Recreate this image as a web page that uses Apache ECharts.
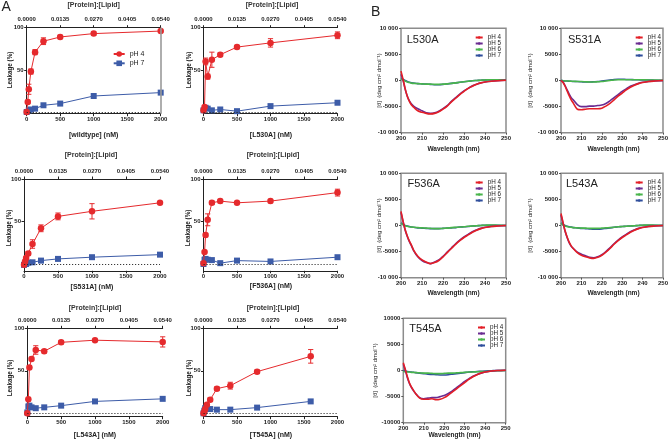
<!DOCTYPE html>
<html><head><meta charset="utf-8">
<script src="https://cdn.jsdelivr.net/npm/echarts@6/dist/echarts.min.js"></script>
<style>html,body{margin:0;padding:0;background:#fff}#c{width:671px;height:440px}</style>
</head><body><div id="c"></div>
<script>
// ================= DATA =================
// Panel A: leakage (%) vs protein concentration (nM)
const leakXTicks = [0, 500, 1000, 1500, 2000];
const leakYTicks = [50, 100];
const ratioTicks = [0, 0.0135, 0.027, 0.0405, 0.054];

const wtConc4  = [0, 15.6, 31.25, 62.5, 125, 250, 500, 1000, 2000];
const wtLeak4  = [0, 12, 27, 48, 71, 84, 89, 93, 96];
const wtErr4   = [0, 2, 6, 3, 3, 4, 2, 2, 1];
const wtConc7  = [0, 31.25, 62.5, 125, 250, 500, 1000, 2000];
const wtLeak7  = [0, 2, 3, 4, 8, 10, 19, 23];

const l530Conc4 = [0, 15.6, 31.25, 62.5, 125, 250, 500, 1000, 2000];
const l530Leak4 = [2, 6, 60, 42, 62, 68, 77, 82, 91];
const l530Err4  = [0, 0, 4, 3, 9, 2, 2, 5, 4];
const l530Conc7 = [0, 31.25, 62.5, 125, 250, 500, 1000, 2000];
const l530Leak7 = [2, 5, 4, 2, 3, 1, 7, 11];

const s531Conc4 = [0, 15.6, 31.25, 62.5, 125, 250, 500, 1000, 2000];
const s531Leak4 = [-1, 3, 7, 12.5, 23.5, 42, 56, 62, 72];
const s531Err4  = [0, 1, 1, 2, 5, 4, 4, 9, 1];
const s531Conc7 = [0, 31.25, 62.5, 125, 250, 500, 1000, 2000];
const s531Leak7 = [-1, 0, 1.5, 2, 4, 6, 8, 11];

const f536Conc4 = [0, 15.6, 31.25, 62.5, 125, 250, 500, 1000, 2000];
const f536Leak4 = [1, 14, 34, 52, 72, 74, 72, 74, 84];
const f536Err4  = [0, 1, 2, 7, 2, 2, 1, 2, 4];
const f536Conc7 = [0, 15.6, 31.25, 62.5, 125, 250, 500, 1000, 2000];
const f536Leak7 = [0, 5, 6, 5, 4.6, 1, 4, 3, 8];

const l543Conc4 = [0, 15.6, 31.25, 62.5, 125, 250, 500, 1000, 2000];
const l543Leak4 = [0, 16.5, 54, 64, 74.5, 73, 83.5, 86, 84];
const l543Err4  = [0, 1, 2, 2, 5, 2, 2, 1, 6];
const l543Conc7 = [0, 15.6, 31.25, 62.5, 125, 250, 500, 1000, 2000];
const l543Leak7 = [1, 8, 9, 7, 6, 7, 9, 14, 17];

const t545Conc4 = [0, 12.5, 25, 50, 100, 200, 400, 800, 1600];
const t545Leak4 = [0, 2, 5, 10, 16, 29, 32.5, 49, 67];
const t545Err4  = [0, 1, 1, 1, 2, 2, 4, 2, 8];
const t545Conc7 = [0, 12.5, 25, 50, 100, 200, 400, 800, 1600];
const t545Leak7 = [0, 3, 6, 7.5, 5, 4.3, 4.3, 6.7, 14];

// Panel B: CD spectra, mean residue ellipticity vs wavelength (nm)
const cdWavelength = [200,201,202,203,204,205,206,208,210,212,214,216,218,220,222,224,226,228,230,232,234,236,238,240,243,246,250];
const cdXTicks = [200, 210, 220, 230, 240, 250];
const cdYTicks = [-10000, -5000, 0, 5000, 10000];
const cdYTickLabels = ['-10 000', '-5000', '0', '5000', '10 000'];
const cdYTickLabelsT545A = ['-10000', '-5000', '0', '5000', '10000'];

const l530_pH4 = [1800,200,-1600,-3000,-4000,-4700,-5100,-5800,-6100,-6300,-6400,-6300,-6000,-5500,-4900,-4100,-3400,-2700,-2100,-1500,-1100,-700,-450,-300,-150,-50,50];
const l530_pH5 = [1200,0,-1700,-3000,-3900,-4500,-4900,-5400,-5800,-6200,-6300,-6200,-5900,-5400,-4800,-4000,-3300,-2600,-2000,-1500,-1000,-700,-450,-300,-150,-50,50];
const l530_pH6 = [300,100,-100,-300,-400,-500,-550,-600,-650,-700,-700,-750,-750,-700,-650,-550,-450,-350,-250,-150,-50,0,50,100,150,150,100];
const l530_pH7 = [400,200,0,-200,-350,-450,-500,-600,-650,-700,-750,-800,-800,-750,-650,-550,-450,-350,-250,-150,-50,0,50,100,150,150,100];

const s531_pH4 = [0,-400,-1100,-2000,-2900,-3700,-4300,-5500,-5600,-5500,-5400,-5400,-5400,-5300,-4900,-4400,-3700,-3000,-2400,-1800,-1300,-900,-600,-400,-200,-100,0];
const s531_pH5 = [0,-300,-1000,-1800,-2600,-3300,-3700,-4600,-5000,-5000,-4900,-4900,-4800,-4700,-4400,-3900,-3300,-2700,-2100,-1600,-1100,-800,-550,-350,-200,-100,0];
const s531_pH6 = [0,-50,-100,-100,-100,-150,-150,-200,-200,-250,-300,-300,-250,-200,-100,0,100,150,150,150,150,150,150,150,100,100,50];
const s531_pH7 = [0,-50,-100,-100,-150,-150,-200,-200,-250,-300,-300,-250,-200,-100,0,100,200,250,250,200,200,150,150,100,100,50,0];

const f536_pH4 = [2700,800,-800,-2000,-3000,-3800,-4700,-5900,-6600,-7000,-7300,-7100,-6700,-6000,-5200,-4400,-3600,-2900,-2300,-1800,-1300,-900,-600,-400,-200,-100,0];
const f536_pH5 = [2500,700,-900,-2100,-3100,-3900,-4800,-6000,-6700,-7100,-7300,-7000,-6600,-5900,-5100,-4300,-3500,-2800,-2200,-1700,-1200,-850,-550,-350,-200,-100,0];
const f536_pH6 = [400,150,-50,-150,-250,-300,-350,-400,-450,-500,-550,-600,-600,-550,-500,-400,-350,-300,-250,-150,-100,-50,0,50,100,50,0];
const f536_pH7 = [500,200,0,-100,-200,-300,-350,-450,-500,-550,-600,-600,-600,-550,-500,-450,-400,-300,-250,-200,-100,-50,0,50,50,50,0];

const l543_pH4 = [2300,600,-1000,-2200,-3200,-3900,-4400,-5200,-5700,-6000,-6200,-6300,-6100,-5700,-5100,-4400,-3600,-2900,-2300,-1800,-1300,-900,-600,-400,-200,-100,0];
const l543_pH5 = [2000,400,-1100,-2300,-3300,-4000,-4400,-5100,-5500,-5800,-6100,-6200,-6000,-5600,-5000,-4300,-3500,-2800,-2200,-1700,-1200,-850,-550,-350,-200,-100,0];
const l543_pH6 = [400,100,-100,-200,-300,-350,-400,-450,-500,-500,-550,-550,-550,-500,-450,-400,-350,-250,-200,-150,-100,-50,0,50,100,50,0];
const l543_pH7 = [500,200,0,-150,-250,-300,-400,-450,-550,-600,-650,-700,-700,-650,-550,-450,-350,-250,-200,-150,-100,-50,0,50,50,50,0];

const t545_pH4 = [1500,200,-1200,-2400,-3200,-3800,-4400,-5300,-5500,-5500,-5400,-5600,-5500,-5200,-4700,-4100,-3500,-2900,-2300,-1700,-1200,-800,-500,-300,-100,0,50];
const t545_pH5 = [1200,0,-1400,-2500,-3300,-3900,-4400,-5200,-5400,-5300,-5200,-5200,-5000,-4800,-4400,-3900,-3300,-2700,-2100,-1600,-1100,-750,-500,-300,-100,0,50];
const t545_pH6 = [-200,-250,-300,-300,-350,-350,-400,-450,-500,-500,-550,-600,-600,-550,-500,-500,-450,-400,-350,-300,-300,-250,-200,-200,-100,-50,0];
const t545_pH7 = [0,-100,-200,-250,-300,-350,-400,-500,-600,-700,-750,-800,-850,-850,-800,-700,-600,-500,-400,-300,-250,-200,-150,-100,-50,0,0];

// ================= LAYOUT / STYLE =================
const FONT = '"Liberation Sans", Arial, Helvetica, sans-serif';
const INK = '#222';
const RED = '#e52a2d', BLUE = '#3d5ca8';
const CD_COL = {4: '#e31e26', 5: '#6a2c91', 6: '#48b54b', 7: '#2f4e9c'};

const leakPanels = [
  {conc4: wtConc4, leak4: wtLeak4, err4: wtErr4, conc7: wtConc7, leak7: wtLeak7, grid: {left: 26.7, top: 27.7, width: 134, height: 86}, ymin: -2, rightLine: true},
  {conc4: l530Conc4, leak4: l530Leak4, err4: l530Err4, conc7: l530Conc7, leak7: l530Leak7, grid: {left: 203.5, top: 27.7, width: 134, height: 86}, ymin: -2},
  {conc4: s531Conc4, leak4: s531Leak4, err4: s531Err4, conc7: s531Conc7, leak7: s531Leak7, grid: {left: 24, top: 179, width: 136, height: 91.8}, ymin: -8},
  {conc4: f536Conc4, leak4: f536Leak4, err4: f536Err4, conc7: f536Conc7, leak7: f536Leak7, grid: {left: 203.5, top: 179, width: 134, height: 91.8}, ymin: -8},
  {conc4: l543Conc4, leak4: l543Leak4, err4: l543Err4, conc7: l543Conc7, leak7: l543Leak7, grid: {left: 27.3, top: 328.3, width: 135.4, height: 88.4}, ymin: -4},
  {conc4: t545Conc4, leak4: t545Leak4, err4: t545Err4, conc7: t545Conc7, leak7: t545Leak7, grid: {left: 203.5, top: 328.3, width: 134, height: 88.4}, ymin: -4}
];

const cdPanels = [
  {s: [l530_pH4, l530_pH5, l530_pH6, l530_pH7], labels: cdYTickLabels, grid: {left: 401, top: 28.3, width: 105, height: 104.4}},
  {s: [s531_pH4, s531_pH5, s531_pH6, s531_pH7], labels: cdYTickLabels, grid: {left: 561, top: 28.3, width: 105, height: 104.4}},
  {s: [f536_pH4, f536_pH5, f536_pH6, f536_pH7], labels: cdYTickLabels, grid: {left: 401, top: 173.3, width: 105, height: 104.4}},
  {s: [l543_pH4, l543_pH5, l543_pH6, l543_pH7], labels: cdYTickLabels, grid: {left: 561, top: 173.3, width: 105, height: 104.4}},
  {s: [t545_pH4, t545_pH5, t545_pH6, t545_pH7], labels: cdYTickLabelsT545A, grid: {left: 403.3, top: 318.3, width: 102.4, height: 104.4}}
];

const zip = (a, b) => a.map((v, i) => [v, b[i]]);

const grids = [], xAxes = [], yAxes = [], series = [], legends = [];
const tickFont = {fontSize: 6, fontWeight: 'bold', color: INK, fontFamily: FONT};

leakPanels.forEach((p, i) => {
  grids.push(Object.assign({containLabel: false}, p.grid));
  const gi = grids.length - 1;
  const xb = xAxes.length;
  xAxes.push({type: 'value', gridIndex: gi, position: 'bottom', min: 0, max: 2000,
    axisLine: {show: true, onZero: false, lineStyle: {color: INK, width: 1}},
    axisTick: {show: true, length: 2.5, customValues: leakXTicks, lineStyle: {color: INK}},
    axisLabel: Object.assign({customValues: leakXTicks, margin: 3, formatter: v => String(v)}, tickFont),
    splitLine: {show: false}});
  xAxes.push({type: 'value', gridIndex: gi, position: 'top', min: 0, max: 0.054,
    axisLine: {show: true, onZero: false, lineStyle: {color: INK, width: 1}},
    axisTick: {show: true, length: 2.5, customValues: ratioTicks, lineStyle: {color: INK}},
    axisLabel: Object.assign({customValues: ratioTicks, margin: 5, formatter: v => v.toFixed(4)}, tickFont),
    splitLine: {show: false}});
  const yi = yAxes.length;
  yAxes.push({type: 'value', gridIndex: gi, min: p.ymin, max: 100,
    axisLine: {show: true, onZero: false, lineStyle: {color: INK, width: 1}},
    axisTick: {show: true, length: 2.5, customValues: leakYTicks, lineStyle: {color: INK}},
    axisLabel: Object.assign({customValues: leakYTicks, margin: 3, formatter: v => String(v)}, tickFont),
    splitLine: {show: false}});
  // error bars (pH 4)
  const errData = p.conc4.map((c, k) => [c, p.leak4[k], p.err4[k]]).filter(d => d[2] > 0);
  series.push({type: 'custom', xAxisIndex: xb, yAxisIndex: yi, data: errData, z: 2, silent: true,
    encode: {x: 0, y: 1},
    renderItem: (params, api) => {
      const x = api.value(0), y = api.value(1), e = api.value(2);
      const t = api.coord([x, y + e]), b = api.coord([x, y - e]);
      const w = 2.6, st = {stroke: RED, lineWidth: 1};
      return {type: 'group', children: [
        {type: 'line', shape: {x1: t[0], y1: t[1], x2: b[0], y2: b[1]}, style: st},
        {type: 'line', shape: {x1: t[0] - w, y1: t[1], x2: t[0] + w, y2: t[1]}, style: st},
        {type: 'line', shape: {x1: b[0] - w, y1: b[1], x2: b[0] + w, y2: b[1]}, style: st}
      ]};
    }});
  const ml = [{yAxis: 0, lineStyle: {type: [1.2, 1.8], color: INK, width: 0.9}}];
  if (p.rightLine) ml.push({xAxis: 2000, lineStyle: {type: 'solid', color: '#9a9a9a', width: 1.6}});
  series.push({type: 'line', name: 'pH 7', xAxisIndex: xb, yAxisIndex: yi, data: zip(p.conc7, p.leak7),
    symbol: 'rect', symbolSize: 6, itemStyle: {color: BLUE}, lineStyle: {color: BLUE, width: 1}, z: 3,
    markLine: {silent: true, symbol: 'none', label: {show: false}, animation: false, data: ml}});
  series.push({type: 'line', name: 'pH 4', xAxisIndex: xb, yAxisIndex: yi, data: zip(p.conc4, p.leak4),
    symbol: 'circle', symbolSize: 6.5, itemStyle: {color: RED}, lineStyle: {color: RED, width: 1}, z: 4});
});

legends.push({data: ['pH 4', 'pH 7'], orient: 'vertical', left: 112.7, top: 50, padding: 0,
  itemWidth: 11, itemHeight: 7, itemGap: 1.3, selectedMode: false,
  textStyle: {fontSize: 7, color: INK, fontFamily: FONT, lineHeight: 8}});

cdPanels.forEach((p, i) => {
  grids.push(Object.assign({show: true, borderColor: '#8c8c8c', borderWidth: 1.5, backgroundColor: 'transparent'}, p.grid));
  const gi = grids.length - 1;
  const xi = xAxes.length;
  xAxes.push({type: 'value', gridIndex: gi, min: 200, max: 250, interval: 10,
    axisLine: {show: false, onZero: false},
    axisTick: {show: true, length: 2, lineStyle: {color: '#555'}},
    axisLabel: Object.assign({margin: 3}, tickFont),
    splitLine: {show: false}});
  const yi = yAxes.length;
  const labels = p.labels;
  yAxes.push({type: 'value', gridIndex: gi, min: -10000, max: 10000, interval: 5000,
    axisLine: {show: false, onZero: false},
    axisTick: {show: true, length: 2, lineStyle: {color: '#555'}},
    axisLabel: Object.assign({margin: 3, formatter: v => labels[cdYTicks.indexOf(v)]}, tickFont),
    splitLine: {show: false}});
  [7, 6, 5, 4].forEach(ph => {
    series.push({type: 'line', name: 'CD pH ' + ph, xAxisIndex: xi, yAxisIndex: yi,
      data: zip(cdWavelength, p.s[[4, 5, 6, 7].indexOf(ph)]),
      symbol: 'none', smooth: 0.3, lineStyle: {color: CD_COL[ph], width: 1.6}, itemStyle: {color: CD_COL[ph]}, z: 3});
  });
  legends.push({data: ['CD pH 4', 'CD pH 5', 'CD pH 6', 'CD pH 7'], formatter: n => n.slice(3),
    orient: 'vertical', left: p.grid.left + 73.7, top: p.grid.top + 6.2, padding: 0,
    itemWidth: 7, itemHeight: 3, itemGap: 0, selectedMode: false,
    textStyle: {fontSize: 6.3, color: INK, fontFamily: FONT, lineHeight: 5.8}});
});

// ================= TEXT =================
const txt = (text, x, y, opt) => Object.assign({type: 'text', x: x, y: y, silent: true,
  style: Object.assign({text: text, fill: INK, fontFamily: FONT, fontSize: 7, fontWeight: 'bold', align: 'center', verticalAlign: 'middle'}, (opt && opt.style) || {})},
  opt && opt.rotation ? {rotation: opt.rotation} : {});
const ROT = Math.PI / 2;
const graphics = [
  txt('A', 1.5, 7, {style: {fontSize: 14, fontWeight: 'normal', align: 'left'}}),
  txt('B', 371, 12, {style: {fontSize: 14, fontWeight: 'normal', align: 'left'}}),
  // panel A titles
  txt('[Protein]:[Lipid]', 93.7, 5, {style: {fill: '#333'}}),
  txt('[Protein]:[Lipid]', 272, 5, {style: {fill: '#333'}}),
  txt('[Protein]:[Lipid]', 91, 155, {style: {fill: '#333'}}),
  txt('[Protein]:[Lipid]', 273, 155, {style: {fill: '#333'}}),
  txt('[Protein]:[Lipid]', 95, 307.7, {style: {fill: '#333'}}),
  txt('[Protein]:[Lipid]', 273, 307.7, {style: {fill: '#333'}}),
  txt('Leakage (%)', 10, 70, {rotation: ROT, style: {fontSize: 6.3}}),
  txt('Leakage (%)', 189, 70, {rotation: ROT, style: {fontSize: 6.3}}),
  txt('Leakage (%)', 9.5, 228, {rotation: ROT, style: {fontSize: 6.3}}),
  txt('Leakage (%)', 188.5, 228, {rotation: ROT, style: {fontSize: 6.3}}),
  txt('Leakage (%)', 10, 378, {rotation: ROT, style: {fontSize: 6.3}}),
  txt('Leakage (%)', 189, 378, {rotation: ROT, style: {fontSize: 6.3}}),
  txt('[wildtype] (nM)', 93.7, 135),
  txt('[L530A] (nM)', 271, 135),
  txt('[S531A] (nM)', 92, 286.7),
  txt('[F536A] (nM)', 271, 286),
  txt('[L543A] (nM)', 95, 435),
  txt('[T545A] (nM)', 271, 435),
  // panel B
  txt('L530A', 406.7, 39.5, {style: {fontSize: 11, fontWeight: 'normal', align: 'left'}}),
  txt('S531A', 568, 39.5, {style: {fontSize: 11, fontWeight: 'normal', align: 'left'}}),
  txt('F536A', 407.5, 184.3, {style: {fontSize: 11, fontWeight: 'normal', align: 'left'}}),
  txt('L543A', 566, 184.3, {style: {fontSize: 11, fontWeight: 'normal', align: 'left'}}),
  txt('T545A', 409.3, 329.3, {style: {fontSize: 11, fontWeight: 'normal', align: 'left'}}),
  txt('[\u03b8]  (deg cm\u00b2 dmol\u207b\u00b9)', 379, 80.5, {rotation: ROT, style: {fontSize: 6, fontWeight: 'normal'}}),
  txt('[\u03b8]  (deg cm\u00b2 dmol\u207b\u00b9)', 530, 80.5, {rotation: ROT, style: {fontSize: 6, fontWeight: 'normal'}}),
  txt('[\u03b8]  (deg cm\u00b2 dmol\u207b\u00b9)', 379, 225.5, {rotation: ROT, style: {fontSize: 6, fontWeight: 'normal'}}),
  txt('[\u03b8]  (deg cm\u00b2 dmol\u207b\u00b9)', 530, 225.5, {rotation: ROT, style: {fontSize: 6, fontWeight: 'normal'}}),
  txt('[\u03b8]  (deg cm\u00b2 dmol\u207b\u00b9)', 375.5, 370.5, {rotation: ROT, style: {fontSize: 6, fontWeight: 'normal'}}),
  txt('Wavelength (nm)', 453.5, 149.5, {style: {fontSize: 6.5}}),
  txt('Wavelength (nm)', 613.5, 149.5, {style: {fontSize: 6.5}}),
  txt('Wavelength (nm)', 453.5, 293.5, {style: {fontSize: 6.5}}),
  txt('Wavelength (nm)', 613.5, 293.5, {style: {fontSize: 6.5}}),
  txt('Wavelength (nm)', 454.5, 435.5, {style: {fontSize: 6.5}})
];

const chart = echarts.init(document.getElementById('c'), null, {renderer: 'canvas'});
chart.setOption({
  animation: false,
  backgroundColor: '#fff',
  textStyle: {fontFamily: FONT},
  grid: grids, xAxis: xAxes, yAxis: yAxes, series: series, legend: legends,
  graphic: graphics
});
</script></body></html>
